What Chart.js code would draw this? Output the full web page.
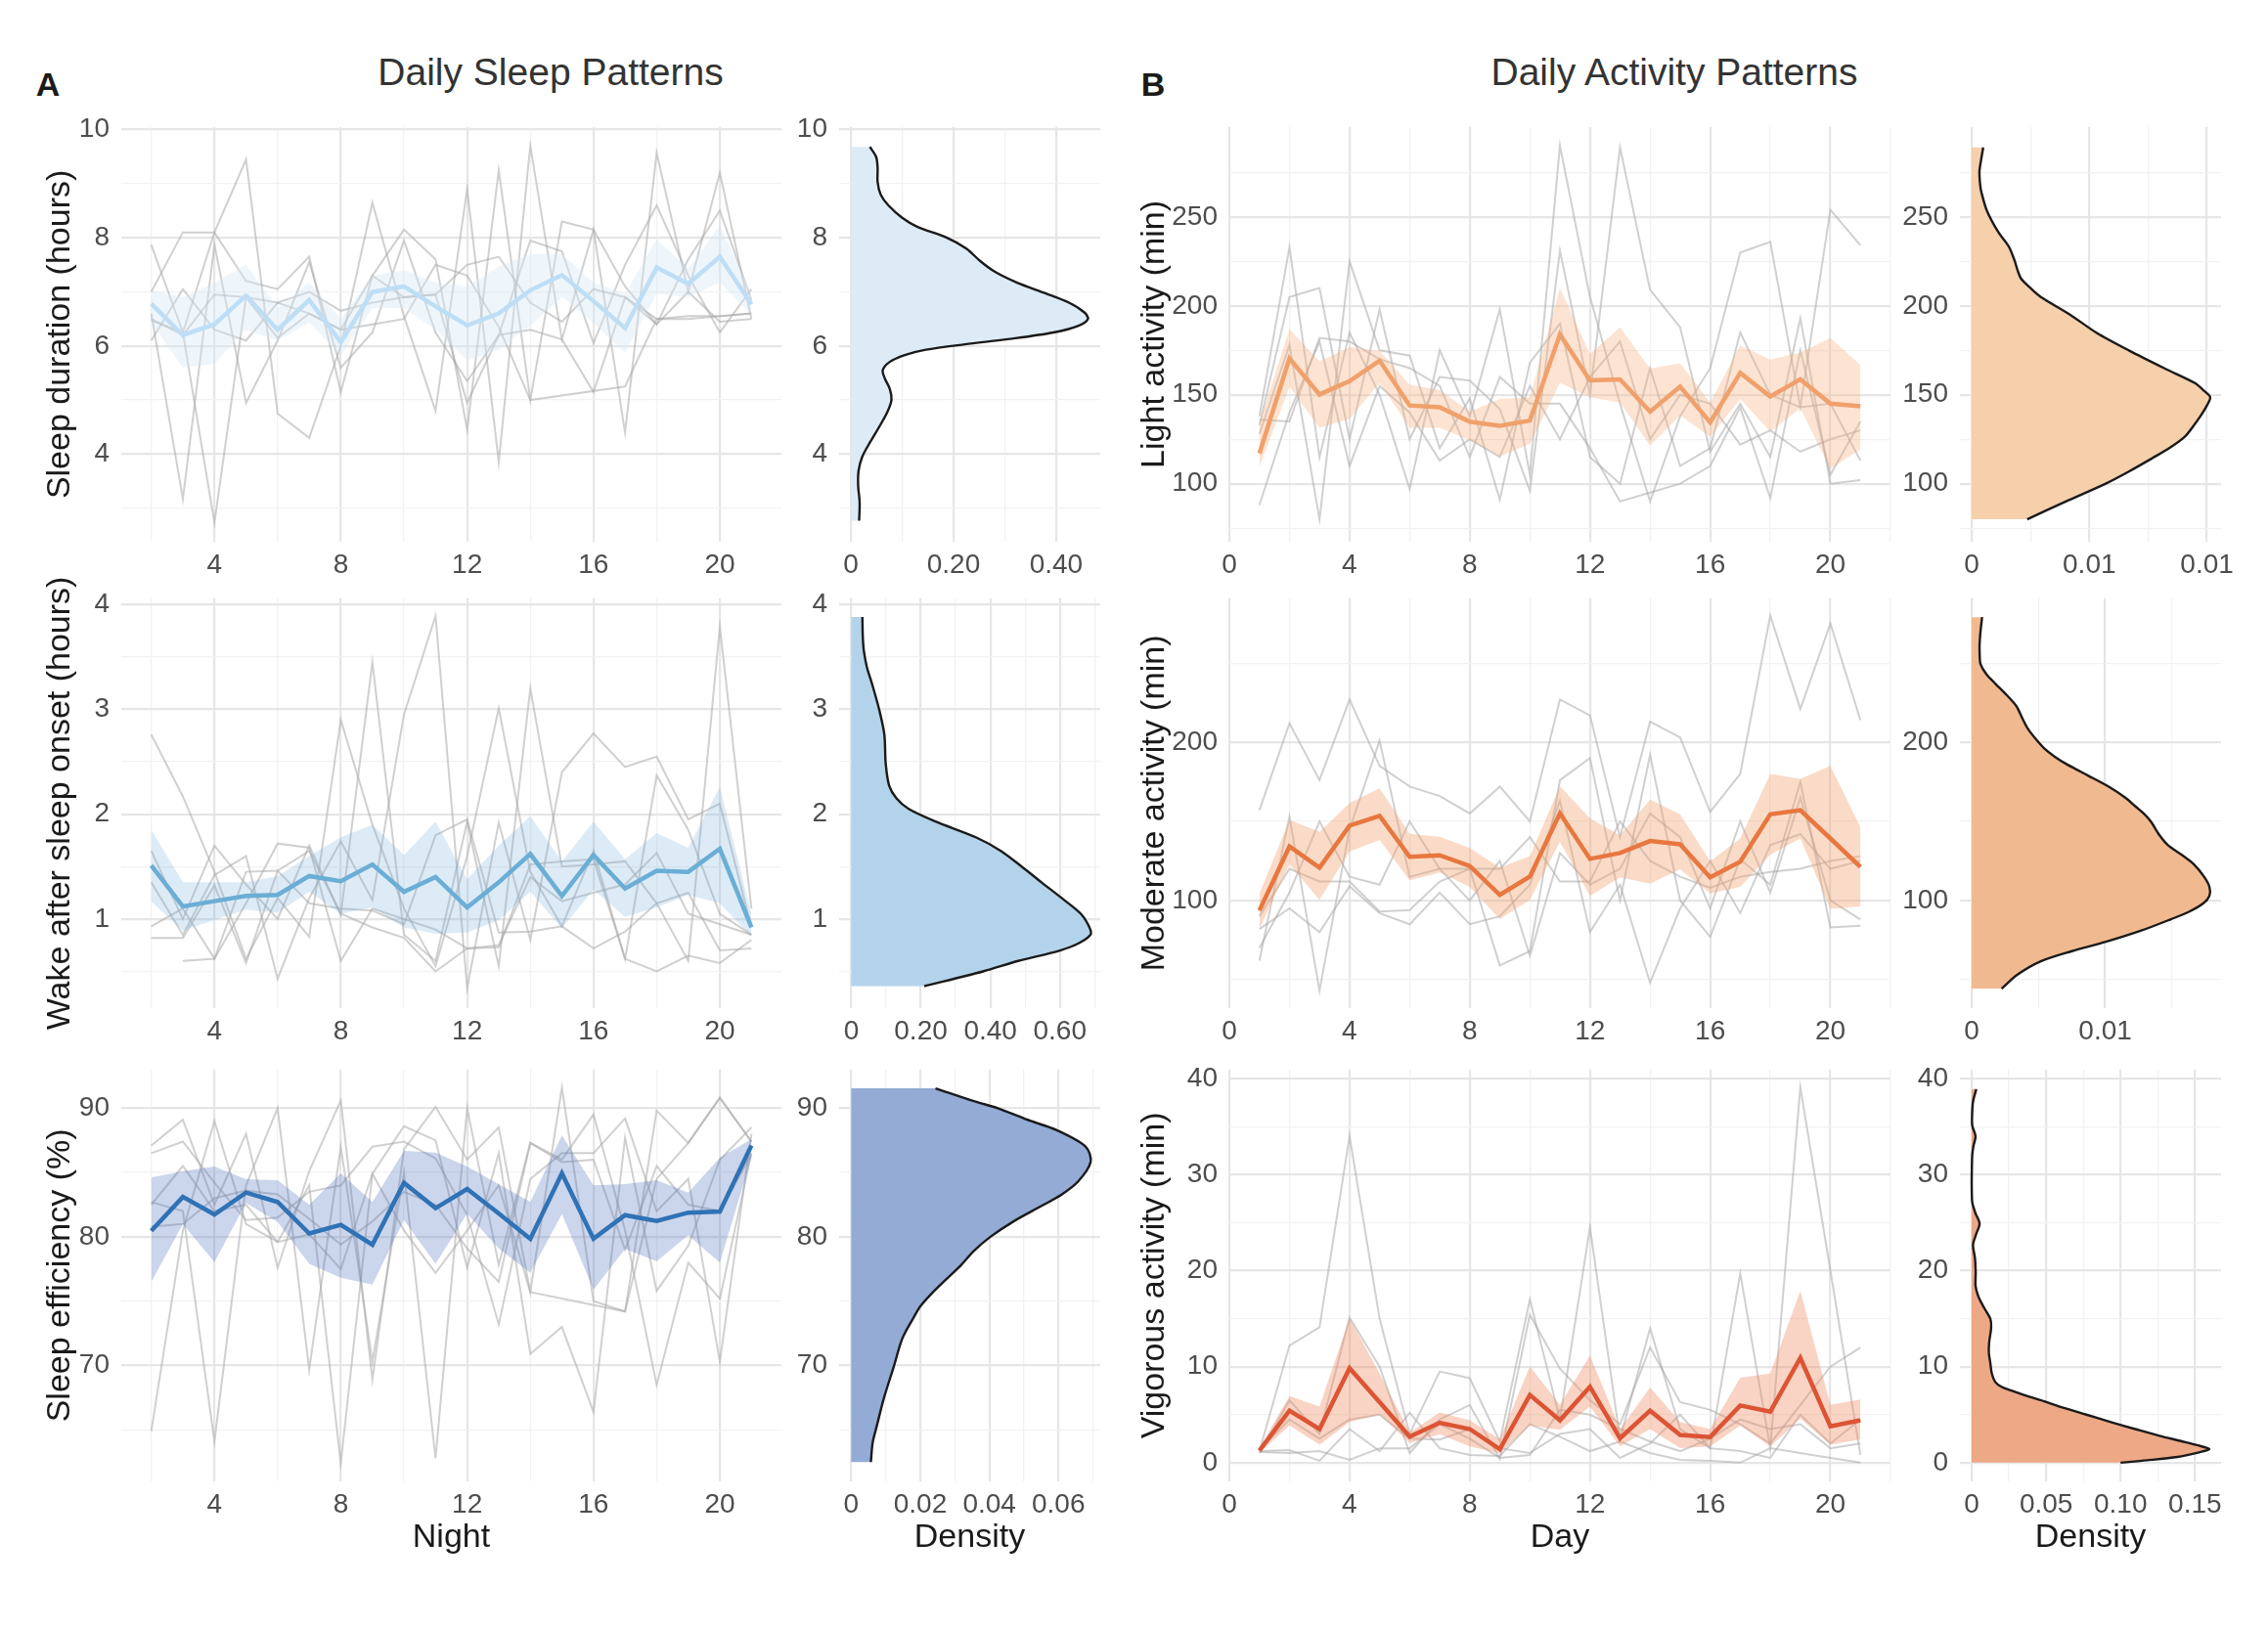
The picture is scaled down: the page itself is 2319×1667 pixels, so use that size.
<!DOCTYPE html>
<html>
<head>
<meta charset="utf-8">
<script src="https://cdn.jsdelivr.net/npm/chart.js@4.4.1/dist/chart.umd.min.js"></script>
<style>
  body { margin: 0; background: #fff; width: 2319px; height: 1667px; position: relative; overflow: hidden;
         font-family: 'Liberation Sans', Arial, Helvetica, sans-serif; }
  canvas { position: absolute; }
  .lbl { position: absolute; white-space: nowrap; transform: translate(-50%, -50%); }
</style>
</head>
<body>
<div class="lbl" style="left:49px;top:86px;font-size:34px;font-weight:bold;color:#1a1a1a">A</div>
<div class="lbl" style="left:563px;top:74px;font-size:39px;color:#333">Daily Sleep Patterns</div>
<div class="lbl" style="left:1179px;top:86px;font-size:34px;font-weight:bold;color:#1a1a1a">B</div>
<div class="lbl" style="left:1712px;top:74px;font-size:39px;color:#333">Daily Activity Patterns</div>
<script>
// --- data: sleep (nights 2..21) ---
const nights = [2, 3, 4, 5, 6, 7, 8, 9, 10, 11, 12, 13, 14, 15, 16, 17, 18, 19, 20, 21];

const durMean = [6.78, 6.2, 6.4, 6.93, 6.3, 6.85, 6.07, 7.0, 7.1, 6.73, 6.38, 6.6, 7.03, 7.31, 6.83, 6.33, 7.45, 7.15, 7.65, 6.77];
const durLo = [6.43, 5.6, 5.67, 6.3, 6.1, 6.43, 5.83, 6.7, 6.7, 6.3, 5.73, 5.93, 6.37, 6.9, 6.43, 5.87, 6.97, 6.9, 7.17, 6.57];
const durHi = [7.03, 6.9, 7.17, 7.5, 6.7, 7.17, 6.5, 7.3, 7.4, 7.17, 7.1, 7.47, 7.7, 7.7, 7.17, 6.97, 7.97, 7.43, 8.23, 6.97];
const durIndiv = [
  [7.87, 6.25, 8.1, 9.45, 4.75, 4.3, 6.0, 8.65, 6.55, 4.8, 8.9, 3.85, 9.7, 6.12, 8.15, 4.4, 9.57, 7.0, 9.2, 6.5],
  [7.0, 8.1, 8.1, 7.2, 7.05, 7.65, 5.15, 7.3, 8.15, 7.6, 4.45, 9.25, 5.0, 8.3, 8.15, 7.1, 6.4, 7.6, 8.5, 6.85],
  [6.6, 3.17, 7.87, 4.95, 6.1, 7.55, 5.6, 6.25, 7.95, 6.25, 5.35, 6.2, 7.95, 7.75, 6.05, 7.5, 8.6, 7.3, 6.25, 7.05],
  [6.47, 6.25, 2.73, 6.9, 6.8, 7.0, 6.65, 6.8, 6.9, 6.95, 7.5, 7.65, 6.8, 6.45, 7.05, 6.9, 6.5, 6.5, 6.55, 6.6],
  [6.1, 7.05, 6.3, 6.1, 6.8, 6.6, 6.3, 6.4, 6.5, 7.5, 7.3, 6.35, 5.0, null, null, 5.25, 6.5, 6.55, 6.55, 6.6],
  [6.5, 6.2, 6.95, 6.9, 6.15, 6.6, 6.3, 7.3, 6.9, 6.95, 4.95, 6.2, 6.3, 6.12, 5.15, 6.9, 6.4, 7.0, 6.45, 6.5]
];
const durDensVal = [9.68, 9.5, 9.3, 9.03, 8.8, 8.6, 8.37, 8.2, 8.01, 7.8, 7.57, 7.37, 7.17, 6.97, 6.8, 6.62, 6.5, 6.38, 6.25, 6.13, 6.03, 5.93, 5.83, 5.7, 5.55, 5.4, 5.2, 5.0, 4.8, 4.55, 4.23, 3.95, 3.7, 3.43, 3.1, 2.77];
const durDens = [0.037, 0.049, 0.052, 0.052, 0.058, 0.073, 0.10, 0.13, 0.185, 0.225, 0.252, 0.281, 0.324, 0.38, 0.425, 0.455, 0.462, 0.445, 0.395, 0.31, 0.222, 0.146, 0.105, 0.075, 0.062, 0.066, 0.076, 0.079, 0.072, 0.058, 0.038, 0.022, 0.015, 0.014, 0.017, 0.016];

const wasoMean = [1.51, 1.12, 1.17, 1.22, 1.23, 1.41, 1.36, 1.52, 1.26, 1.40, 1.11, 1.35, 1.62, 1.22, 1.61, 1.29, 1.46, 1.45, 1.67, 0.92];
const wasoLo = [1.17, 0.89, 0.99, 1.09, 1.06, 1.26, 1.05, 1.11, 0.92, 0.86, 0.87, 0.99, 1.26, 0.91, 1.28, 1.02, 1.11, 1.23, 1.15, 0.83];
const wasoHi = [1.85, 1.35, 1.35, 1.35, 1.41, 1.6, 1.78, 1.9, 1.61, 1.93, 1.38, 1.7, 1.98, 1.55, 1.93, 1.57, 1.82, 1.68, 2.26, 1.05];
const wasoIndiv = [
  [2.76, 2.17, 1.45, 0.62, 1.2, 0.83, 2.9, 1.9, 1.1, 0.55, 1.6, 3.01, 1.45, 0.93, 1.65, 0.62, 2.37, 1.85, 1.05, 0.85],
  [1.65, 1.0, 1.7, 1.33, 1.0, 1.7, 1.04, 3.45, 0.85, 0.6, 1.93, 0.55, 3.2, 1.5, 1.52, 1.55, 1.15, 0.6, 3.79, 1.1],
  [1.35, 0.85, 1.42, 1.6, 0.43, 1.2, 1.74, 1.18, 2.95, 3.89, 0.34, 1.92, 0.8, 2.4, 2.77, 2.45, 2.55, 1.95, 2.1, 0.92],
  [0.93, 1.1, 0.62, 1.15, 1.72, 1.68, 0.6, 1.1, 1.0, 0.9, 0.72, 0.73, 1.52, 1.55, 1.57, 0.62, 0.5, 0.65, 0.58, 0.8],
  [0.82, 0.82, 1.32, 0.58, 1.46, 1.15, 1.1, 1.08, 0.95, 1.8, 1.95, 0.87, 0.88, 0.93, 0.72, 0.88, 1.15, 1.25, 0.7, 0.72],
  [null, 0.6, 0.62, 1.45, 1.46, 1.65, 1.05, 0.92, 0.82, 0.5, 0.72, 0.75, 1.4, 1.17, 1.25, 1.33, 1.63, 1.05, 0.95, 0.85]
];
const wasoDensVal = [3.88, 3.7, 3.56, 3.4, 3.25, 3.0, 2.76, 2.48, 2.27, 2.15, 2.05, 1.93, 1.78, 1.65, 1.5, 1.35, 1.2, 1.05, 0.92, 0.85, 0.77, 0.7, 0.6, 0.5, 0.36];
const wasoDens = [0.032, 0.033, 0.036, 0.045, 0.059, 0.08, 0.095, 0.099, 0.109, 0.13, 0.165, 0.242, 0.358, 0.43, 0.49, 0.547, 0.605, 0.66, 0.685, 0.688, 0.655, 0.6, 0.48, 0.379, 0.21];

const effMean = [80.47, 83.1, 81.74, 83.44, 82.71, 80.26, 80.93, 79.39, 84.2, 82.23, 83.71, 81.82, 79.85, 84.93, 79.85, 81.69, 81.23, 81.88, 81.96, 87.09];
const effLo = [76.5, 81.0, 78.04, 82.63, 81.15, 77.9, 76.83, 76.29, 81.3, 77.9, 81.8, 79.1, 77.2, 81.77, 75.9, 79.07, 78.1, 80.12, 77.99, 86.14];
const effHi = [84.6, 85.1, 85.47, 84.47, 84.4, 82.5, 84.93, 82.7, 86.68, 86.55, 85.47, 84.1, 82.7, 87.9, 84.0, 84.1, 84.4, 83.44, 86.14, 87.6];
const effIndiv = [
  [87.1, 89.1, 82.5, 88.0, 77.6, 85.1, 90.6, 68.9, 86.8, 90.1, 86.0, 88.5, 75.7, 91.6, 75.0, 74.2, 89.8, 87.3, 90.8, 87.4],
  [64.9, 80.5, 89.0, 81.0, 79.6, 84.0, 62.4, 84.9, 88.6, 87.5, 77.6, 86.5, 70.9, 73.0, 66.4, 87.7, 75.8, 79.3, 86.0, 88.5],
  [82.7, 82.0, 64.1, 84.0, 90.0, 69.7, 87.0, 70.3, 85.0, 62.8, 90.0, 77.8, 87.3, 86.0, 89.5, 80.5, 68.5, 78.0, 75.2, 86.5],
  [86.5, 87.4, 84.2, 81.3, 81.5, 83.5, 84.0, 87.0, 87.4, 86.1, 81.7, 73.2, 84.5, 86.5, 86.5, 89.2, 82.0, 84.5, 70.3, 88.0],
  [82.5, 85.5, 82.0, 82.5, 79.6, 80.2, 77.5, 84.9, 80.5, 77.2, 80.5, 84.0, 75.7, null, null, 74.2, 84.5, 87.3, 90.8, 87.4],
  [80.8, 81.0, 83.0, 83.6, 83.3, 81.4, 79.4, 81.2, 83.5, 82.5, 79.1, 76.5, 87.3, 85.8, 86.0, 79.0, 85.5, 82.5, 82.0, 86.4]
];
const effDensVal = [91.54, 90.5, 90, 89, 88.3, 87, 85.8, 84.3, 83.3, 82.4, 81.2, 80, 78.9, 77.8, 76.7, 75.6, 74.6, 73.7, 72.1, 69.9, 67.5, 65.3, 64, 62.5];
const effDens = [0.0244, 0.036, 0.0424, 0.052, 0.0594, 0.0679, 0.0693, 0.0657, 0.061, 0.0551, 0.047, 0.0403, 0.0355, 0.0318, 0.0275, 0.0233, 0.020, 0.018, 0.0148, 0.0123, 0.0095, 0.0074, 0.0062, 0.0057];

// --- data: activity (days 1..21) ---
const days = [1, 2, 3, 4, 5, 6, 7, 8, 9, 10, 11, 12, 13, 14, 15, 16, 17, 18, 19, 20, 21];

const lightMean = [117, 170.4, 150.2, 157.7, 169.2, 144.0, 143.0, 134.9, 132.5, 135.5, 183.9, 158.1, 158.7, 140.5, 154.6, 134.5, 162.3, 149.0, 158.7, 145.0, 143.5];
const lightLo = [109.3, 154.6, 131.5, 136.5, 156.7, 131.5, 131.5, 124.4, 115.3, 122.4, 156.7, 148.6, 145.6, 121.4, 138.5, 126.4, 147.6, 129.4, 142.5, 108.3, 119.4];
const lightHi = [134.5, 186.9, 168.8, 176.8, 174.8, 155.6, 152.6, 140.5, 147.6, 148.6, 210.1, 172.8, 187.9, 164.7, 167.7, 145.6, 177.8, 169.8, 173.8, 181.9, 166.7];
const lightIndiv = [
  [138, 233, 115, 185, 150, 97, 175, 138, 198, 105, 290, 205, 145, 90, 138, 165, 230, 236, 143, 254, 234],
  [133, 205, 210, 125, 198, 125, 160, 158, 142, 96, 231, 150, 289, 209, 188, 118, 145, 115, 193, 100, 102],
  [128, 178, 80, 225, 175, 172, 120, 148, 91, 168, 190, 115, 100, 165, 110, 120, 185, 150, 143, 145, 113],
  [88, 140, 180, 110, 155, 140, 113, 125, 115, 155, 125, 160, 180, 125, 150, 145, 122, 130, 118, 125, 130],
  [136, 135, 182, 180, 170, 165, 155, 115, 160, 145, 145, 120, 90, 95, 100, 110, 143, 92, 175, 105, 135]
];
const lightDensVal = [289.1, 282, 275.6, 268, 263.5, 253.4, 241.3, 233.3, 225.2, 220, 215.1, 210, 205, 195, 184.9, 174.8, 164.7, 156.7, 152, 148.6, 144, 138.5, 132, 126.4, 120, 114.3, 107, 100.2, 90, 80];
const lightDens = [0.00049, 0.0004, 0.00033, 0.00036, 0.00042, 0.00065, 0.00114, 0.00158, 0.00183, 0.00195, 0.00211, 0.0025, 0.00294, 0.00419, 0.0053, 0.0067, 0.00822, 0.00947, 0.0099, 0.01014, 0.0100, 0.00975, 0.0094, 0.00906, 0.0084, 0.00767, 0.0067, 0.00572, 0.0040, 0.00236];

const modMean = [93.7, 134.1, 120.8, 147.3, 153.5, 127.6, 128.6, 121.8, 103.5, 115.1, 155.1, 126.3, 130.0, 137.6, 135.5, 114.7, 124.5, 154.5, 157.1, 139.2, 121.2];
const modLo = [82.0, 122.9, 100.4, 131.0, 138.2, 112.7, 117.8, 108.6, 88.2, 100.4, 137.1, 102.9, 114.7, 110.6, 119.8, 104.5, 108.6, 129.0, 139.2, 94.7, 96.3];
const modHi = [104.5, 151.0, 143.3, 161.6, 170.8, 142.2, 140.2, 133.1, 120.8, 128.0, 172.2, 151.8, 141.2, 163.7, 154.5, 124.9, 139.2, 180.0, 176.9, 185.1, 146.3];
const modIndiv = [
  [157, 212, 176, 227, 185, 172, 166, 155, 172, 150, 227, 217, 140, 213, 203, 156, 180, 280, 221, 275, 214],
  [62, 153, 43, 145, 201, 115, 120, 120, 59, 68, 176, 190, 100, 192, 100, 77, 126, 110, 175, 83, 84],
  [82, 95, 80, 109, 92, 85, 105, 85, 90, 110, 163, 80, 110, 48, 95, 125, 92, 135, 142, 120, 125],
  [70, 105, 150, 115, 110, 150, 120, 100, 125, 65, 130, 110, 120, 155, 140, 95, 150, 105, 165, 100, 88],
  [90, 120, 112, 112, 93, 94, 112, 120, 120, 140, 112, 112, 150, 125, 115, 108, 115, 118, 120, 125, 128]
];
const modDensVal = [279, 270, 261.6, 255, 249.4, 243, 237.1, 230, 222.9, 215, 208.6, 202, 196.3, 191, 186.1, 179, 171.8, 165, 159.6, 154, 149.4, 142, 135.1, 129, 122.9, 115, 108.6, 103, 98.4, 93, 88.2, 81, 73.9, 68, 61.6, 53, 44.3];
const modDens = [0.00078, 0.00066, 0.00059, 0.0006, 0.00066, 0.0011, 0.00176, 0.0026, 0.00334, 0.0038, 0.0042, 0.0048, 0.00541, 0.0062, 0.00712, 0.0087, 0.01029, 0.0115, 0.01224, 0.0130, 0.01346, 0.0140, 0.01468, 0.0157, 0.01663, 0.0174, 0.0178, 0.0178, 0.01737, 0.0163, 0.01493, 0.0127, 0.01005, 0.0075, 0.00517, 0.0034, 0.00224];

const vigMean = [1.26, 5.42, 3.5, 9.83, 6.3, 2.71, 4.16, 3.5, 1.41, 7.05, 4.41, 7.91, 2.53, 5.42, 2.89, 2.67, 5.96, 5.31, 10.91, 3.79, 4.41];
const vigLo = [0.98, 3.87, 1.88, 4.23, 5.0, 2.06, 2.96, 1.7, 0.98, 3.87, 3.43, 5.85, 1.7, 3.5, 1.52, 1.7, 3.87, 1.7, 4.59, 1.88, 2.42];
const vigHi = [1.52, 6.94, 5.85, 15.07, 9.29, 3.14, 5.24, 4.41, 2.42, 10.01, 6.03, 11.17, 3.5, 7.84, 4.23, 3.5, 8.85, 9.29, 17.89, 6.03, 6.58];
const vigIndiv = [
  [1.2, 12.2, 14.1, 34.0, 15.0, 3.0, 9.5, 8.8, 2.2, 17.0, 4.5, 24.5, 2.5, 14.0, 3.5, 1.5, 19.7, 1.5, 39.1, 20.0, 0.8],
  [1.0, 6.5, 3.0, 15.1, 10.0, 1.0, 4.5, 6.0, 0.4, 15.4, 9.8, 6.5, 4.0, 12.0, 6.3, 5.5, 4.0, 2.0, 6.0, 10.0, 12.0],
  [1.3, 4.5, 2.5, 4.5, 5.0, 2.5, 2.4, 3.5, 1.5, 1.0, 3.0, 3.5, 0.5, 2.0, 5.0, 1.5, 1.2, 0.5, 5.0, 2.0, 4.5],
  [1.2, 1.3, 0.2, 3.5, 1.2, 5.2, 1.5, 0.8, 0.7, 4.0, 2.7, 1.2, 2.2, 1.0, 0.3, 0.2, 0.0, 1.5, 1.0, 0.5, 0.0],
  [1.1, 1.0, 1.2, 0.3, 1.5, 1.5, 4.0, 2.5, 0.5, 0.8, 5.5, 5.0, 3.5, 2.2, 1.2, 2.5, 4.5, 3.5, 4.0, 1.5, 2.0]
];
const vigDensVal = [38.9, 37.6, 36.3, 35.1, 34, 33, 32.1, 30.5, 29.2, 28, 27.1, 26, 24.9, 23.8, 22.7, 21.3, 19.8, 18.4, 17.3, 16.2, 15, 14.1, 12.6, 11.5, 10.4, 9.3, 8.4, 7.9, 7.5, 7.0, 6.4, 5.7, 5.0, 4.2, 3.5, 2.8, 2.25, 1.8, 1.4, 1.05, 0.6, 0.25, 0];
const vigDens = [0.0031, 0.0009, 0.0003, 0.0004, 0.0026, 0.0012, 0.0004, 0.0001, 0.0, 0.0001, 0.0004, 0.0025, 0.0053, 0.003, 0.0009, 0.0022, 0.0027, 0.0026, 0.0045, 0.0081, 0.0125, 0.0131, 0.0118, 0.0115, 0.0125, 0.0135, 0.0158, 0.02, 0.0267, 0.036, 0.0486, 0.062, 0.077, 0.094, 0.1098, 0.126, 0.1405, 0.152, 0.1597, 0.152, 0.1383, 0.118, 0.1];

// --- rendering ---
const FONT = "'Liberation Sans', Arial, Helvetica, sans-serif";
Chart.defaults.font.family = FONT;
Chart.defaults.animation = false;

const COLS = { la: [124, 799], da: [858, 1125], lb: [1257, 1933], db: [2004, 2271] };
const ROWS = [[123, 554], [605, 1031], [1087, 1515]];
const PAD_T = 22, PAD_R = 30;

function axis(min, max, majors, minors, labels, pad) {
  return {
    type: 'linear', min, max, bounds: 'data',
    afterBuildTicks: s => { s.ticks = majors.concat(minors).sort((a, b) => a - b).map(v => ({ value: v })); },
    ticks: {
      autoSkip: false, maxRotation: 0, padding: pad, color: '#4d4d4d', font: { size: 28 },
      callback: v => { const i = majors.indexOf(v); return i < 0 ? '' : labels[i]; }
    },
    grid: {
      drawTicks: false,
      color: c => majors.includes(c.tick.value) ? '#e6e6e6' : '#f2f2f2',
      lineWidth: c => majors.includes(c.tick.value) ? 2.2 : 1.3
    },
    border: { display: false }
  };
}

function title(text, pad) {
  return { display: true, text, color: '#1a1a1a', font: { size: 34 }, padding: pad };
}

function panel(col, row, yW, xH, datasets, xAx, yAx) {
  const [L, R] = COLS[col], [T, B] = ROWS[row];
  const w = yW + (R - L) + PAD_R, h = PAD_T + (B - T) + xH;
  const cv = document.createElement('canvas');
  cv.width = w; cv.height = h;
  cv.style.left = (L - yW) + 'px'; cv.style.top = (T - PAD_T) + 'px';
  cv.style.width = w + 'px'; cv.style.height = h + 'px';
  document.body.appendChild(cv);
  xAx.position = 'bottom';
  xAx.afterFit = s => { s.height = xH; };
  yAx.position = 'left';
  yAx.afterFit = s => { s.width = yW; };
  return new Chart(cv.getContext('2d'), {
    type: 'scatter',
    data: { datasets },
    options: {
      responsive: false, animation: false,
      layout: { padding: { top: PAD_T, right: PAD_R, left: 0, bottom: 0 } },
      plugins: { legend: { display: false }, tooltip: { enabled: false } },
      elements: { point: { radius: 0 } },
      scales: { x: xAx, y: yAx }
    }
  });
}

function pts(xs, arr) {
  return xs.map((x, i) => ({ x, y: arr[i] })).filter(p => p.y !== null);
}

function lineSets(xs, indiv, lo, hi, mean, meanColor, bandColor) {
  const base = { showLine: true, pointRadius: 0, tension: 0 };
  return [
    { ...base, data: pts(xs, mean), borderColor: meanColor, borderWidth: 4.5, fill: false },
    { ...base, data: pts(xs, hi), borderWidth: 0, borderColor: 'rgba(0,0,0,0)', backgroundColor: bandColor, fill: '+1' },
    { ...base, data: pts(xs, lo), borderWidth: 0, borderColor: 'rgba(0,0,0,0)', fill: false },
    ...indiv.map(a => ({ ...base, data: pts(xs, a), borderColor: 'rgba(170,170,170,0.55)', borderWidth: 2, fill: false }))
  ];
}

function densSets(vals, dens, fillColor) {
  const curve = vals.map((v, i) => ({ x: dens[i], y: v }));
  const first = curve[0], last = curve[curve.length - 1];
  const poly = [{ x: 0, y: first.y }, first, first, ...curve.slice(1, -1), last, last, { x: 0, y: last.y }];
  return [
    { data: curve, showLine: true, pointRadius: 0, tension: 0.3, borderColor: '#1a1a1a', borderWidth: 2.4, fill: false },
    { data: poly, showLine: true, pointRadius: 0, tension: 0.3, borderWidth: 0, borderColor: 'rgba(0,0,0,0)', backgroundColor: fillColor, fill: 'shape' }
  ];
}

// x axes
const nightAx = () => axis(1.05, 21.95, [4, 8, 12, 16, 20], [2, 6, 10, 14, 18], ['4', '8', '12', '16', '20'], 7);
const dayAx = () => axis(0, 22, [0, 4, 8, 12, 16, 20], [2, 6, 10, 14, 18, 22], ['0', '4', '8', '12', '16', '20'], 7);

// y axes
const durY = () => axis(2.38, 10.05, [4, 6, 8, 10], [3, 5, 7, 9], ['4', '6', '8', '10'], 12);
const wasoY = () => axis(0.15, 4.06, [1, 2, 3, 4], [0.5, 1.5, 2.5, 3.5], ['1', '2', '3', '4'], 12);
const effY = () => axis(61, 93, [70, 80, 90], [65, 75, 85], ['70', '80', '90'], 12);
const lightY = () => axis(67.4, 300.6, [100, 150, 200, 250], [75, 125, 175, 225, 275], ['100', '150', '200', '250'], 12);
const modY = () => axis(32, 291, [100, 200], [50, 150, 250], ['100', '200'], 12);
const vigY = () => axis(-1.95, 40.95, [0, 10, 20, 30, 40], [5, 15, 25, 35], ['0', '10', '20', '30', '40'], 12);

function withTitle(ax, t) { ax.title = t; return ax; }

// Panel A: sleep
panel('la', 0, 124, 40, lineSets(nights, durIndiv, durLo, durHi, durMean, '#bedef5', 'rgba(212,232,248,0.4)'),
  nightAx(), withTitle(durY(), title('Sleep duration (hours)', { top: 41 })));
panel('da', 0, 70, 40, densSets(durDensVal, durDens, '#ddebf7'),
  axis(-0.023, 0.486, [0, 0.2, 0.4], [0.1, 0.3], ['0', '0.20', '0.40'], 7), durY());

panel('la', 1, 124, 40, lineSets(nights, wasoIndiv, wasoLo, wasoHi, wasoMean, '#6aaed6', 'rgba(120,175,220,0.25)'),
  nightAx(), withTitle(wasoY(), title('Wake after sleep onset (hours)', { top: 41 })));
panel('da', 1, 70, 40, densSets(wasoDensVal, wasoDens, '#b3d3ea'),
  axis(-0.035, 0.716, [0, 0.2, 0.4, 0.6], [0.1, 0.3, 0.5, 0.7], ['0', '0.20', '0.40', '0.60'], 7), wasoY());

panel('la', 2, 124, 85, lineSets(nights, effIndiv, effLo, effHi, effMean, '#2f72b5', 'rgba(70,105,185,0.28)'),
  withTitle(nightAx(), title('Night', { top: 0, bottom: 7 })), withTitle(effY(), title('Sleep efficiency (%)', { top: 41 })));
panel('da', 2, 70, 85, densSets(effDensVal, effDens, '#93abd5'),
  withTitle(axis(-0.0035, 0.0721, [0, 0.02, 0.04, 0.06], [0.01, 0.03, 0.05, 0.07], ['0', '0.02', '0.04', '0.06'], 7), title('Density', { top: 0, bottom: 7 })), effY());

// Panel B: activity
panel('lb', 0, 120, 40, lineSets(days, lightIndiv, lightLo, lightHi, lightMean, '#f0a06a', 'rgba(246,175,125,0.35)'),
  dayAx(), withTitle(lightY(), title('Light activity (min)', { top: 23 })));
panel('db', 0, 70, 40, densSets(lightDensVal, lightDens, '#f6cfab'),
  axis(-0.0005, 0.0106, [0, 0.005, 0.01], [0.0025, 0.0075], ['0', '0.01', '0.01'], 7), lightY());

panel('lb', 1, 120, 40, lineSets(days, modIndiv, modLo, modHi, modMean, '#e8773f', 'rgba(242,160,110,0.38)'),
  dayAx(), withTitle(modY(), title('Moderate activity (min)', { top: 23 })));
panel('db', 1, 70, 40, densSets(modDensVal, modDens, '#f1b98f'),
  axis(-0.00088, 0.01867, [0, 0.01], [0.005, 0.015], ['0', '0.01'], 7), modY());

panel('lb', 2, 120, 85, lineSets(days, vigIndiv, vigLo, vigHi, vigMean, '#dc5434', 'rgba(238,140,100,0.38)'),
  withTitle(dayAx(), title('Day', { top: 0, bottom: 7 })), withTitle(vigY(), title('Vigorous activity (min)', { top: 23 })));
panel('db', 2, 70, 85, densSets(vigDensVal, vigDens, '#eda886'),
  withTitle(axis(-0.0079, 0.1675, [0, 0.05, 0.1, 0.15], [0.025, 0.075, 0.125], ['0', '0.05', '0.10', '0.15'], 7), title('Density', { top: 0, bottom: 7 })), vigY());
</script>
</body>
</html>
